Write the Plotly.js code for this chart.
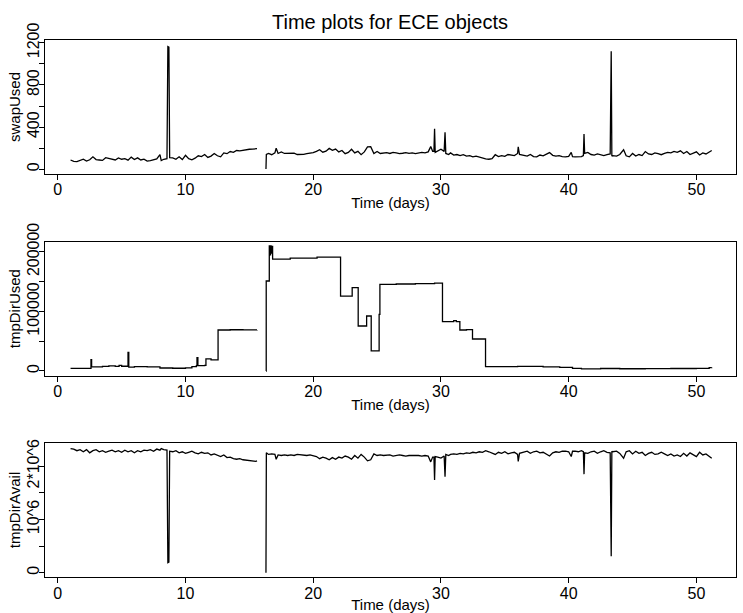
<!DOCTYPE html>
<html>
<head>
<meta charset="utf-8">
<script src="https://cdn.plot.ly/plotly-3.0.1.min.js"></script>
<style>html,body{margin:0;padding:0;background:#fff;}#chart{width:743px;height:613px;}</style>
</head>
<body>
<div id="chart"></div>
<script>
// Time (days) for swapUsed and tmpDirAvail samples
const days = [
  1.0,1.25,1.5,1.75,2.0,2.25,2.5,2.75,3.0,3.25,
  3.5,3.75,4.0,4.25,4.5,4.75,5.0,5.25,5.5,5.75,
  6.0,6.25,6.5,6.75,7.0,7.25,7.5,7.75,8.0,8.1,
  8.3,8.55,8.62,8.7,8.76,9.0,9.25,9.5,9.75,10.0,
  10.25,10.5,10.75,11.0,11.25,11.5,11.75,12.0,12.25,12.5,
  12.75,13.0,13.25,13.5,13.75,14.0,14.25,14.5,14.75,15.0,
  15.25,15.5,15.6,16.0,16.3,16.33,16.5,16.75,17.0,17.1,
  17.25,17.5,17.75,18.0,18.25,18.5,18.75,19.0,19.25,19.5,
  19.75,20.0,20.25,20.5,20.75,21.0,21.25,21.5,21.75,22.0,
  22.25,22.5,22.75,23.0,23.25,23.5,23.75,24.0,24.25,24.5,
  24.75,25.0,25.25,25.5,25.75,26.0,26.25,26.5,26.75,27.0,
  27.25,27.5,27.75,28.0,28.25,28.5,28.75,29.0,29.2,29.35,
  29.45,29.5,29.55,29.75,30.0,30.25,30.32,30.38,30.6,30.75,
  31.0,31.25,31.5,31.75,32.0,32.25,32.5,32.75,33.0,33.25,
  33.5,33.75,34.0,34.25,34.5,34.75,35.0,35.25,35.5,35.75,
  36.0,36.05,36.15,36.5,36.75,37.0,37.25,37.5,37.75,38.0,
  38.25,38.5,38.75,39.0,39.25,39.5,39.75,40.0,40.2,40.3,
  40.5,40.75,41.0,41.15,41.2,41.25,41.5,41.75,42.0,42.25,
  42.5,42.75,43.0,43.25,43.33,43.38,43.45,43.75,44.0,44.3,
  44.5,44.75,45.0,45.25,45.5,45.75,46.0,46.25,46.5,46.75,
  47.0,47.25,47.5,47.75,48.0,48.25,48.5,48.75,49.0,49.25,
  49.5,49.75,50.0,50.25,50.5,50.75,51.0,51.2
];
const swapUsed = [
  88,75,72,80,95,78,90,118,92,88,
  84,110,102,96,88,108,95,100,86,115,
  92,108,88,96,78,82,90,98,140,82,
  95,100,1165,1160,110,108,95,118,92,132,
  100,90,105,128,120,140,112,125,150,128,
  118,155,148,168,160,178,175,182,185,190,
  192,190,195,null,3,140,150,138,155,200,
  150,165,150,152,148,152,140,140,142,148,
  152,158,170,185,162,172,198,180,192,165,
  178,148,160,190,155,170,138,165,212,215,
  150,168,150,155,158,150,160,155,148,152,
  158,150,155,148,152,160,155,165,215,170,
  170,385,160,175,190,170,350,150,140,155,
  135,140,130,138,125,130,118,125,115,112,
  98,95,100,138,120,130,122,140,135,130,
  150,212,140,130,125,140,120,118,135,128,
  140,158,132,125,130,120,118,122,160,120,
  118,122,120,130,335,150,160,140,135,145,
  138,130,140,145,1120,125,130,125,140,185,
  128,118,150,125,140,130,168,145,140,155,
  148,138,150,160,155,170,160,175,150,168,
  140,155,165,135,155,145,165,178
];
const tmpDirAvail = [
  2.33e6,2.32e6,2.29e6,2.31e6,2.27e6,2.31e6,2.25e6,2.29e6,2.31e6,2.27e6,
  2.29e6,2.26e6,2.28e6,2.30e6,2.27e6,2.29e6,2.26e6,2.30e6,2.27e6,2.29e6,
  2.25e6,2.29e6,2.27e6,2.30e6,2.29e6,2.31e6,2.28e6,2.32e6,2.30e6,2.33e6,
  2.31e6,2.30e6,0.19e6,0.20e6,2.28e6,2.27e6,2.29e6,2.25e6,2.27e6,2.24e6,
  2.26e6,2.28e6,2.25e6,2.23e6,2.26e6,2.24e6,2.25e6,2.21e6,2.23e6,2.20e6,
  2.18e6,2.21e6,2.16e6,2.17e6,2.14e6,2.13e6,2.14e6,2.12e6,2.11e6,2.11e6,
  2.10e6,2.09e6,2.10e6,null,0,2.25e6,2.22e6,2.23e6,2.22e6,2.13e6,
  2.21e6,2.20e6,2.21e6,2.20e6,2.21e6,2.20e6,2.22e6,2.21e6,2.21e6,2.20e6,
  2.21e6,2.19e6,2.18e6,2.14e6,2.17e6,2.15e6,2.12e6,2.16e6,2.13e6,2.17e6,
  2.15e6,2.19e6,2.17e6,2.13e6,2.20e6,2.15e6,2.22e6,2.17e6,2.10e6,2.12e6,
  2.23e6,2.20e6,2.21e6,2.20e6,2.20e6,2.21e6,2.19e6,2.20e6,2.21e6,2.20e6,
  2.19e6,2.20e6,2.20e6,2.21e6,2.20e6,2.19e6,2.20e6,2.19e6,2.08e6,2.17e6,
  2.17e6,1.74e6,2.18e6,2.17e6,2.15e6,2.19e6,1.80e6,2.22e6,2.20e6,2.22e6,
  2.23e6,2.22e6,2.24e6,2.23e6,2.25e6,2.24e6,2.26e6,2.25e6,2.27e6,2.26e6,
  2.29e6,2.27e6,2.25e6,2.22e6,2.26e6,2.24e6,2.27e6,2.23e6,2.25e6,2.26e6,
  2.22e6,2.09e6,2.24e6,2.26e6,2.28e6,2.24e6,2.27e6,2.28e6,2.25e6,2.26e6,
  2.23e6,2.19e6,2.25e6,2.27e6,2.26e6,2.28e6,2.28e6,2.27e6,2.18e6,2.28e6,
  2.28e6,2.27e6,2.29e6,2.27e6,1.85e6,2.25e6,2.24e6,2.27e6,2.28e6,2.24e6,
  2.27e6,2.29e6,2.26e6,2.25e6,0.31e6,2.28e6,2.27e6,2.28e6,2.24e6,2.15e6,
  2.27e6,2.29e6,2.23e6,2.28e6,2.24e6,2.26e6,2.20e6,2.24e6,2.26e6,2.22e6,
  2.23e6,2.26e6,2.23e6,2.20e6,2.23e6,2.19e6,2.21e6,2.18e6,2.24e6,2.19e6,
  2.25e6,2.21e6,2.18e6,2.26e6,2.21e6,2.23e6,2.19e6,2.15e6
];
// tmpDirUsed is a step series (value holds until next time)
const days2 = [
  1.0,2.6,2.65,3.5,4.0,4.5,4.8,5.0,5.5,5.56,
  6.0,7.0,8.0,9.0,10.0,10.5,10.85,10.9,10.97,11.5,
  11.6,12.0,12.55,13.5,14.5,15.6,16.0,16.3,16.32,16.56,
  16.62,16.66,16.7,16.74,16.82,18.2,20.3,22.14,23.05,23.52,
  24.18,24.54,25.16,25.22,26.5,28.0,29.5,30.12,31.0,31.2,
  31.48,32.0,32.47,33.49,36.0,38.0,39.3,40.3,41.0,42.5,
  44.0,46.0,48.0,50.0,51.0,51.2
];
const tmpDirUsed = [
  4500,19000,6800,7800,8500,7600,9500,8000,31000,6600,
  7200,6800,5000,4600,5200,7200,9000,22600,9000,9500,
  20500,18500,68800,69200,68900,69000,null,0,151000,210000,
  195000,210000,198000,209000,187900,189500,191000,125800,139800,75500,
  92300,33600,95000,145400,146000,146500,147500,82700,84500,83000,
  68800,69500,53700,7200,7600,7000,6000,4500,3600,4200,
  3800,4000,4200,4500,5500,6000
];
const xTickVals = [0,10,20,30,40,50];
const yTicks1 = [0,400,800,1200];
const yTicks2 = [0,100000,200000];
const yTickText2 = ['0','100000','200000'];
const yTicks3 = [0,1e6,2e6];
const yTickText3 = ['0','10^6','2*10^6'];

const W = 743, H = 613;
const FONT = 'Liberation Sans, Arial, Helvetica, sans-serif';
const lineStyle = {color:'black', width:1.3};

const traces = [
  {x:days, y:swapUsed, xaxis:'x', yaxis:'y', mode:'lines', line:lineStyle, connectgaps:false, hoverinfo:'skip'},
  {x:days2, y:tmpDirUsed, xaxis:'x2', yaxis:'y2', mode:'lines', line:Object.assign({shape:'hv'}, lineStyle), connectgaps:false, hoverinfo:'skip'},
  {x:days, y:tmpDirAvail, xaxis:'x3', yaxis:'y3', mode:'lines', line:lineStyle, connectgaps:false, hoverinfo:'skip'}
];

function xax(anchor){
  return {
    domain:[45/W, 736/W], anchor:anchor, range:[-1.0, 53.1],
    tickvals:xTickVals, ticks:'outside', ticklen:5, tickcolor:'black',
    ticklabelstandoff:-4,
    showline:true, mirror:true, linecolor:'black', linewidth:1,
    showgrid:false, zeroline:false, tickfont:{size:16, family:FONT},
    title:{text:'Time (days)', font:{size:15, family:FONT}, standoff:0}
  };
}
function yax(anchor, top, bottom, range, tickvals, ticktext, minorDtick, title){
  const a = {
    domain:[1-bottom/H, 1-top/H], anchor:anchor, range:range,
    tickvals:tickvals, ticks:'outside', ticklen:5, tickcolor:'black', tickangle:-90,
    ticklabelstandoff:-6,
    showline:true, mirror:true, linecolor:'black', linewidth:1,
    showgrid:false, zeroline:false, tickfont:{size:16, family:FONT},
    minor:{dtick:minorDtick, tick0:0, ticks:'outside', ticklen:5, tickcolor:'black', showgrid:false},
    title:{text:title, font:{size:15, family:FONT}, standoff:0}
  };
  if (ticktext) a.ticktext = ticktext;
  return a;
}

const layout = {
  width:W, height:H, margin:{l:0,r:0,t:0,b:0},
  paper_bgcolor:'white', plot_bgcolor:'white', showlegend:false,
  font:{family:FONT, color:'black'},
  title:{text:'Time plots for ECE objects', x:390/W, y:1-22/H, xanchor:'center', yanchor:'middle', font:{size:20, family:FONT}},
  xaxis: xax('y'),
  xaxis2: xax('y2'),
  xaxis3: xax('y3'),
  yaxis: yax('x', 40, 174, [-45, 1227], yTicks1, null, 200, 'swapUsed'),
  yaxis2: yax('x2', 241.7, 375.7, [-7900, 217000], yTicks2, yTickText2, 50000, 'tmpDirUsed'),
  yaxis3: yax('x3', 442.7, 577.3, [-86000, 2.44e6], yTicks3, yTickText3, 500000, 'tmpDirAvail')
};

Plotly.newPlot('chart', traces, layout, {staticPlot:true, displayModeBar:false});
</script>
</body>
</html>
